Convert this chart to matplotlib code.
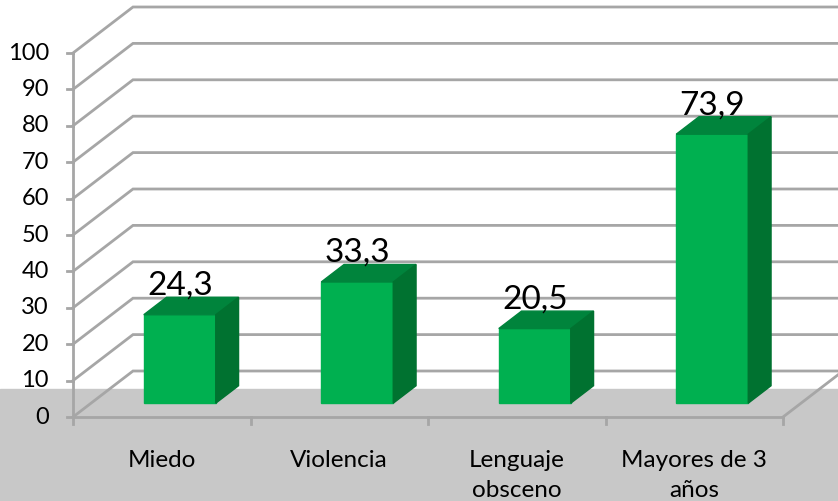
import matplotlib.pyplot as plt
from matplotlib.patches import Polygon, Rectangle

categories = ["Miedo", "Violencia", "Lenguaje\nobsceno", "Mayores de 3\naños"]
values = [24.3, 33.3, 20.5, 73.9]
value_labels = ["24,3", "33,3", "20,5", "73,9"]
yticks = list(range(0, 101, 10))

plt.rcParams['font.family'] = ['Lato', 'DejaVu Sans']

W, H, DPI = 838, 501, 100
fig = plt.figure(figsize=(W / DPI, H / DPI), dpi=DPI)
ax = fig.add_axes([0, 0, 1, 1])
ax.axis('off')

# pixel geometry of the excel-like 3d plot
x_left, cat_px = 73, 177.5
y_zero, val_px = 417, 3.64
ax.set_xlim(-x_left / cat_px, (W - x_left) / cat_px)
ax.set_ylim(-(H - y_zero) / val_px, y_zero / val_px)

DX = 60 / cat_px   # depth offset of back wall
DY = 46 / val_px
n = len(categories)
xmax = ax.get_xlim()[1]
grid_c = '#a6a6a6'

# grey band behind category labels
ax.add_patch(Rectangle((0, 0), 1, (H - 389) / H, transform=ax.transAxes,
                       color='#c8c8c8', zorder=0))

# gridlines: side wall diagonal + back wall
for v in yticks:
    ax.plot([0, DX, xmax], [v, v + DY, v + DY], color=grid_c, lw=2, zorder=1,
            solid_joinstyle='miter')
ax.plot([n, n + DX], [0, DY], color=grid_c, lw=2, zorder=1)
ax.plot([0, n], [0, 0], color=grid_c, lw=2, zorder=1)
ax.plot([0, 0], [0, yticks[-1]], color=grid_c, lw=2, zorder=1)

# tick marks and labels
for v in yticks:
    ax.plot([-6 / cat_px, 0], [v, v], color=grid_c, lw=2, zorder=1)
    ax.text(-24 / cat_px, v, str(v), ha='right', va='center', fontsize=17)
for i in range(n + 1):
    ax.plot([i, i], [0, -7 / val_px], color=grid_c, lw=2, zorder=1)
for i, c in enumerate(categories):
    ax.text(i + 0.5, -33 / val_px, c, ha='center', va='top', fontsize=17.5,
            linespacing=1.55)

# bars
bw = 72 / cat_px
f0, f1 = 0.3, 0.68
fx, fy = f0 * DX, f0 * DY
ddx, ddy = (f1 - f0) * DX, (f1 - f0) * DY
for i, (v, lab) in enumerate(zip(values, value_labels)):
    x0 = i + 0.5 + fx - bw / 2
    x1 = x0 + bw
    b, t = fy, fy + v
    ax.add_patch(Polygon([(x0, b), (x1, b), (x1, t), (x0, t)],
                         closed=True, color='#00b050', zorder=3))
    ax.add_patch(Polygon([(x0, t), (x1, t), (x1 + ddx, t + ddy), (x0 + ddx, t + ddy)],
                         closed=True, color='#00843c', zorder=3))
    ax.add_patch(Polygon([(x1, b), (x1 + ddx, b + ddy), (x1 + ddx, t + ddy), (x1, t)],
                         closed=True, color='#007230', zorder=3))
    ax.text((x0 + x1) / 2, t + 20 / val_px, lab, ha='center', va='baseline',
            fontsize=24, zorder=4)

fig.savefig('out.png', dpi=DPI)
